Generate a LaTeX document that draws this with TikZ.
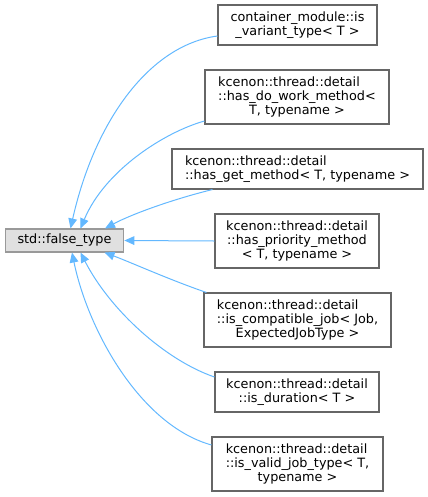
\documentclass[tikz,border=0pt]{standalone}
\usepackage{fontspec}
\setmainfont{DejaVu Sans}
\usetikzlibrary{arrows.meta,calc}
\definecolor{edgeblue}{RGB}{99,184,255}
\definecolor{basefill}{RGB}{224,224,224}
\definecolor{baseline}{RGB}{153,153,153}
\definecolor{boxline}{RGB}{102,102,102}
% first line left-aligned to the (wider) second one
\newlength\secondw
\newcommand\leftfirst[2]{\settowidth{\secondw}{#2}\makebox[\secondw][l]{#1}\\#2}

\begin{document}
\begin{tikzpicture}[x=0.75pt, y=-0.75pt,
                    font=\fontsize{9.6pt}{10.5pt}\selectfont,
                    cls/.style={draw=boxline, fill=white, line width=0.8pt,
                                inner sep=0pt, align=center},
                    inh/.style={edgeblue, line width=0.75pt},
                    >={Triangle[length=7.5pt,width=6.5pt]}]
  \useasboundingbox (0,0) rectangle (428,497);

  % the base class
  \node[cls, draw=baseline, fill=basefill, minimum width=89pt, minimum height=17.25pt]
    (base) at (64.5,240.5) {std::false\_type};

  % derived classes, top to bottom
  \node[cls, minimum width=119.25pt, minimum height=30pt] (cvar) at (297.5,25)
    {container\_module::is\\\_variant\_type< T >};
  \node[cls, minimum width=138pt, minimum height=40.5pt] (dowork) at (297,97)
    {\leftfirst{kcenon::thread::detail}{::has\_do\_work\_method<}\\T, typename >};
  \node[cls, minimum width=188.25pt, minimum height=30pt] (getm) at (297.5,169)
    {\leftfirst{kcenon::thread::detail}{::has\_get\_method< T, typename >}};
  \node[cls, minimum width=123pt, minimum height=40.5pt] (prio) at (297,241)
    {kcenon::thread::detail\\::has\_priority\_method\\< T, typename >};
  \node[cls, minimum width=140.25pt, minimum height=40.5pt] (compat) at (297.5,320)
    {\leftfirst{kcenon::thread::detail}{::is\_compatible\_job< Job,}\\ExpectedJobType >};
  \node[cls, minimum width=123pt, minimum height=30pt] (dur) at (297,392)
    {kcenon::thread::detail\\::is\_duration< T >};
  \node[cls, minimum width=128.25pt, minimum height=40.5pt] (validjob) at (297.5,464)
    {\leftfirst{kcenon::thread::detail}{::is\_valid\_job\_type< T,}\\typename >};

  % inheritance edges
  \draw[inh,->] ($(cvar.west)+(0,11)$) .. controls (150,45) and (95,120) .. ($(base.north)+(6,0)$);
  \draw[inh,->] ($(dowork.west)+(0,24)$) .. controls (165,132) and (105,170) .. ($(base.north)+(16,0)$);
  \draw[inh,->] ($(getm.south west)+(41,0)$) .. controls (170,200) and (130,215) .. ($(base.north)+(40.5,0)$);
  \draw[inh,->] (prio.west) -- (base.east);
  \draw[inh,->] ($(compat.north west)+(3,0)$) .. controls (170,280) and (130,262) .. ($(base.south)+(40,0)$);
  \draw[inh,->] ($(dur.west)+(0,-15)$) .. controls (165,360) and (110,310) .. ($(base.south)+(16,0)$);
  \draw[inh,->] ($(validjob.west)+(0,-19)$) .. controls (140,425) and (88,330) .. ($(base.south)+(7.5,0)$);
\end{tikzpicture}
\end{document}
